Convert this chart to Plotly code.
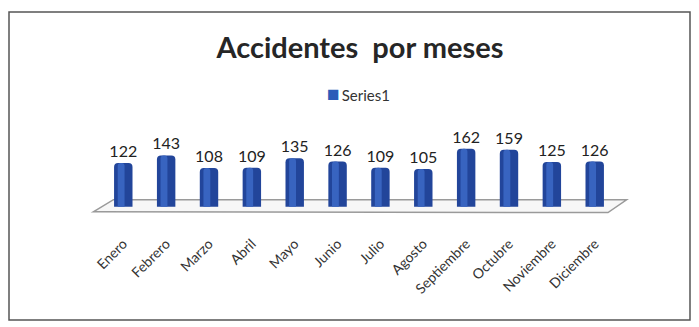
import plotly.graph_objects as go

# Monthly accident counts
meses = ["Enero", "Febrero", "Marzo", "Abril", "Mayo", "Junio",
         "Julio", "Agosto", "Septiembre", "Octubre", "Noviembre", "Diciembre"]
accidentes = [122, 143, 108, 109, 135, 126, 109, 105, 162, 159, 125, 126]
serie = "Series1"

W, H = 699, 327
X_RANGE = [-0.8, 11.8]
Y_RANGE = [-20, 200]
L, R, T, B = 89, 70, 135, 113
BLUE = "#22459a"

fig = go.Figure()

# main cylinder body
fig.add_trace(go.Bar(
    x=list(range(len(meses))), y=accidentes, name=serie,
    width=0.43, marker=dict(color=BLUE, cornerradius=4, line=dict(width=0)),
    text=[str(v) for v in accidentes], textposition="outside", constraintext="none",
    textfont=dict(size=16, color="#222222", family="Lato"),
    cliponaxis=False, showlegend=False,
))
# lighter highlight strip on each cylinder
fig.add_trace(go.Bar(
    x=list(range(len(meses))), y=accidentes, showlegend=False, hoverinfo="skip",
    width=0.16, offset=-0.13, marker=dict(color="#3864c0", cornerradius=3, line=dict(width=0)),
))

fig.update_layout(
    width=W, height=H, barmode="overlay",
    margin=dict(l=L, r=R, t=T, b=B),
    paper_bgcolor="white", plot_bgcolor="white",
    title=dict(text="<b>Accidentes  por meses</b>", x=360 / W, xanchor="center",
               y=1 - 48 / H, yanchor="middle", yref="container",
               font=dict(family="Lato", size=29, color="#262626")),
    showlegend=False,
    xaxis=dict(range=X_RANGE, tickmode="array", tickvals=list(range(len(meses))),
               ticktext=meses, tickangle=-45, showgrid=False, zeroline=False,
               showline=False, ticks="", ticklabelstandoff=18,
               tickfont=dict(family="Lato", size=14, color="#333333")),
    yaxis=dict(range=Y_RANGE, visible=False, showgrid=False, zeroline=False),
)

# series key: blue square + series name
fig.add_annotation(text=(f"<span style='color:#2a5cb8;font-size:21px'>■</span>"
                         f"<span style='font-size:8px'> </span>{serie}"),
                   xref="paper", yref="paper", showarrow=False,
                   x=(325 - L) / (W - L - R), xanchor="left",
                   y=(H - B - 92) / (H - T - B), yanchor="middle",
                   font=dict(family="Lato", size=15, color="#333333"))

# 3D floor under the cylinders
floor = "M -0.70 -14 L -0.23 20 L 11.75 20 L 11.31 -16 Z"
fig.add_shape(type="path", path=floor, xref="x", yref="y",
              line=dict(color="#9a9a9a", width=1.5), fillcolor="rgba(240,240,240,0.5)",
              layer="below")

# outer chart frame
pw, ph = W - L - R, H - T - B
def px(x):
    return (x - L) / pw
def py(y):
    return (H - B - y) / ph
fig.add_shape(type="rect", xref="paper", yref="paper",
              x0=px(9), x1=px(690), y0=py(320), y1=py(12),
              line=dict(color="#555555", width=1.5), fillcolor="rgba(0,0,0,0)")

fig.write_html("out.html")
